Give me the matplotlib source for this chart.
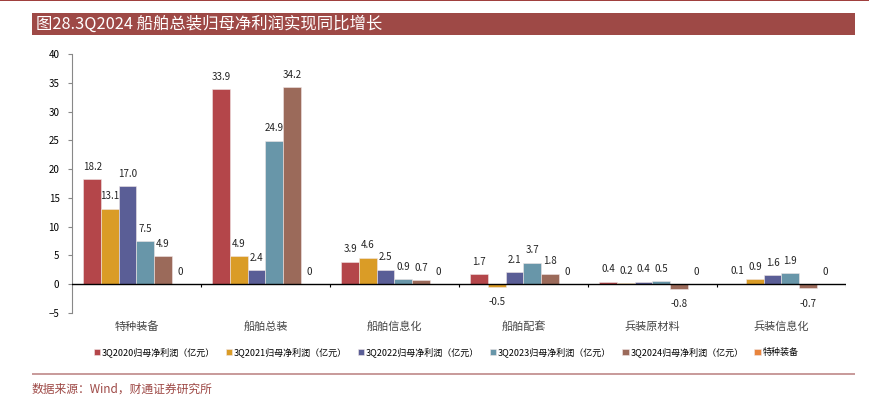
import numpy as np
import matplotlib
matplotlib.use("Agg")
import matplotlib.pyplot as plt
from matplotlib.patches import Rectangle

plt.rcParams['font.family'] = ['Noto Sans CJK SC', 'DejaVu Sans']

# 数据
categories = ['特种装备', '船舶总装', '船舶信息化', '船舶配套', '兵装原材料', '兵装信息化']
series_names = ['3Q2020归母净利润（亿元）', '3Q2021归母净利润（亿元）', '3Q2022归母净利润（亿元）',
                '3Q2023归母净利润（亿元）', '3Q2024归母净利润（亿元）', '特种装备']
v2020 = [18.2, 33.9, 3.9, 1.7, 0.4, 0.1]
v2021 = [13.1, 4.9, 4.6, -0.5, 0.2, 0.9]
v2022 = [17.0, 2.4, 2.5, 2.1, 0.4, 1.6]
v2023 = [7.5, 24.9, 0.9, 3.7, 0.5, 1.9]
v2024 = [4.9, 34.2, 0.7, 1.8, -0.8, -0.7]
v_extra = [0, 0, 0, 0, 0, 0]
label_fmt = ['{:.1f}', '{:.1f}', '{:.1f}', '{:.1f}', '{:.1f}', '{:.0f}']

colors = ['#B4464A', '#DA9C26', '#5A5E96', '#6896A9', '#9B6A5A', '#E8843C']

fig = plt.figure(figsize=(8.7, 3.99), dpi=100)

# 顶部细线和标题栏
fig.add_artist(Rectangle((0, 0.997), 1, 0.003, transform=fig.transFigure, color='#A0403E', lw=0))
fig.add_artist(Rectangle((32 / 870, 1 - 35 / 399), (855 - 32) / 870, 22 / 399,
                         transform=fig.transFigure, color='#9E4946', lw=0))
fig.text(36 / 870, 1 - 24 / 399, '图28.3Q2024 船舶总装归母净利润实现同比增长',
         color='white', fontsize=11.8, va='center', ha='left')

ax = fig.add_axes([72 / 870, 1 - 313 / 399, (846 - 72) / 870, (313 - 54) / 399])

all_vals = [v2020, v2021, v2022, v2023, v2024, v_extra]
x = np.arange(len(categories))
width = 0.137
n = len(all_vals)
for i, vals in enumerate(all_vals):
    pos = x + (i - (n - 1) / 2) * width
    ax.bar(pos, vals, width, color=colors[i], label=series_names[i], zorder=2,
           edgecolor='#f0e6e6', linewidth=0.4)
    for px, v in zip(pos, vals):
        if v >= 0:
            ax.annotate(label_fmt[i].format(v), (px, v), xytext=(0, 9), textcoords='offset points',
                        ha='center', va='center', fontsize=7, color='#222222')
        else:
            ax.annotate(label_fmt[i].format(v), (px, v), xytext=(0, -11), textcoords='offset points',
                        ha='center', va='center', fontsize=7, color='#222222')

ax.set_xlim(-0.5, len(categories) - 0.5)
ax.set_ylim(-5, 40)
ax.set_yticks(range(-5, 41, 5))
ax.tick_params(axis='y', labelsize=7, length=3, color='#888888', pad=6)

ax.set_xticks(x)
ax.set_xticklabels(categories, fontsize=8, color='#444444')
ax.tick_params(axis='x', length=0, pad=6)

ax.axhline(0, color='black', lw=1, zorder=3)
bounds = np.arange(0.5, len(categories) - 0.5, 1.0)
ax.vlines(np.append(bounds, len(categories) - 0.5), -0.55, 0, color='black', lw=0.8, zorder=3)

for s in ['top', 'right', 'bottom']:
    ax.spines[s].set_visible(False)
ax.spines['left'].set_color('#888888')

leg = fig.legend(loc='center', bbox_to_anchor=(446 / 870, 1 - 352 / 399), ncol=6, frameon=False,
                 fontsize=6.5, handlelength=0.7, handleheight=0.7, handletextpad=0.2,
                 columnspacing=1.2)

# 底部线与数据来源
fig.add_artist(Rectangle((32 / 870, 1 - 375 / 399), (855 - 32) / 870, 0.004,
                         transform=fig.transFigure, color='#C99C9C', lw=0))
fig.text(32 / 870, 1 - 389 / 399, '数据来源：Wind，财通证券研究所', color='#9E4946',
         fontsize=8.5, va='center', ha='left')

fig.savefig('out.png', dpi=100)
